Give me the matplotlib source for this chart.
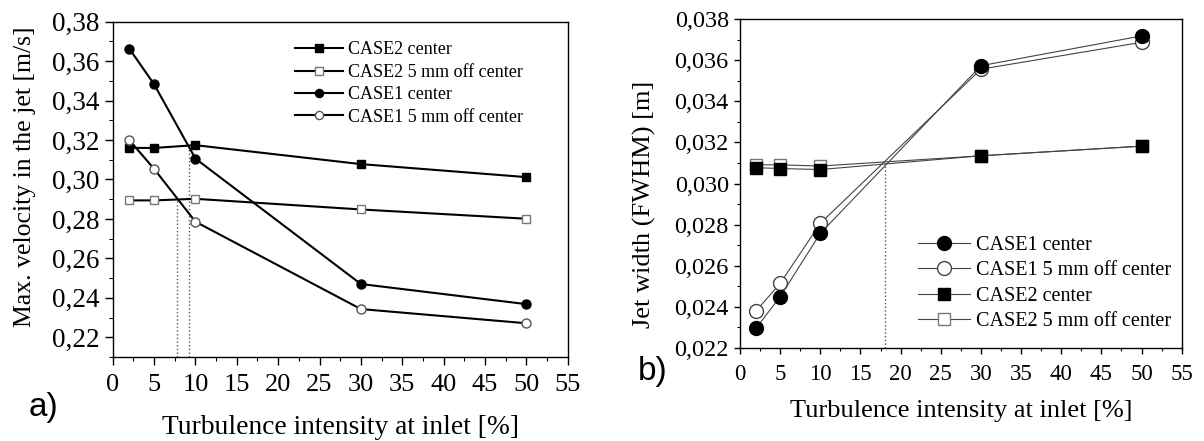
import matplotlib
matplotlib.use("Agg")
import matplotlib.pyplot as plt
from matplotlib.ticker import MultipleLocator, FixedLocator

plt.rcParams['font.family'] = ['Liberation Serif', 'DejaVu Serif']

# turbulence intensity at inlet [%]
ti = [2, 5, 10, 30, 50]

# panel a) max velocity in the jet [m/s]
vel_case2_center = [0.3160, 0.3160, 0.3174, 0.3078, 0.3012]
vel_case2_off = [0.2894, 0.2894, 0.2902, 0.2848, 0.2801]
vel_case1_center = [0.3664, 0.3483, 0.3106, 0.2470, 0.2368]
vel_case1_off = [0.3200, 0.3054, 0.2786, 0.2343, 0.2271]
# dotted guide lines (x position, height)
vel_guides_x = [7.8, 9.2]
vel_guides_y = [0.2900, 0.3170]

# panel b) jet width (FWHM) [m]
w_case1_center = [0.02295, 0.02448, 0.02757, 0.03574, 0.03719]
w_case1_off = [0.02379, 0.02513, 0.02806, 0.03557, 0.03688]
w_case2_center = [0.03077, 0.03073, 0.03068, 0.03135, 0.03182]
w_case2_off = [0.03091, 0.03091, 0.03085, 0.03135, 0.03182]
w_guide_x = 18.0
w_guide_y = 0.03099

xticks = [0, 5, 10, 15, 20, 25, 30, 35, 40, 45, 50, 55]
vel_ticks = [0.22, 0.24, 0.26, 0.28, 0.30, 0.32, 0.34, 0.36, 0.38]
vel_ticklabels = ['0,22', '0,24', '0,26', '0,28', '0,30', '0,32', '0,34', '0,36', '0,38']
w_ticks = [0.022, 0.024, 0.026, 0.028, 0.030, 0.032, 0.034, 0.036, 0.038]
w_ticklabels = ['0,022', '0,024', '0,026', '0,028', '0,030', '0,032', '0,034', '0,036', '0,038']

XLABEL = 'Turbulence intensity at inlet [%]'

fig = plt.figure(figsize=(12.04, 4.41), dpi=100)
ax1 = fig.add_axes([0.0936, 0.1905, 0.3779, 0.7603])
ax2 = fig.add_axes([0.6146, 0.2116, 0.3669, 0.7446])


def style_axis(ax, yticks, yticklabels, ylim, yminor, xfs, yfs, xpad, ypad, tlen):
    ax.set_xlim(0, 55)
    ax.set_ylim(*ylim)
    ax.xaxis.set_major_locator(FixedLocator(xticks))
    ax.set_xticklabels([str(t) for t in xticks])
    ax.xaxis.set_minor_locator(MultipleLocator(2.5))
    ax.yaxis.set_major_locator(FixedLocator(yticks))
    ax.set_yticklabels(yticklabels)
    ax.yaxis.set_minor_locator(MultipleLocator(yminor))
    ax.tick_params(which='major', direction='out', length=tlen, width=1.0,
                   top=False, right=False)
    ax.tick_params(which='minor', direction='out', length=tlen * 0.55, width=0.8,
                   top=False, right=False)
    ax.tick_params(axis='x', labelsize=xfs, pad=xpad)
    ax.tick_params(axis='y', labelsize=yfs, pad=ypad)
    for s in ax.spines.values():
        s.set_linewidth(1.0)


# ---- panel a)
lw = 1.5
ax1.plot(ti, vel_case2_center, color='black', lw=lw, marker='s', ms=6,
         mfc='black', mec='black', label='CASE2 center', zorder=3)
ax1.plot(ti, vel_case2_off, color='black', lw=lw, marker='s', ms=6,
         mfc='white', mec='#777777', label='CASE2 5 mm off center', zorder=3)
ax1.plot(ti, vel_case1_center, color='black', lw=lw, marker='o', ms=6.5,
         mfc='black', mec='black', label='CASE1 center', zorder=3)
ax1.plot(ti, vel_case1_off, color='black', lw=lw, marker='o', ms=6.5,
         mfc='white', mec='#555555', label='CASE1 5 mm off center', zorder=3)
for gx, gy in zip(vel_guides_x, vel_guides_y):
    ax1.vlines(gx, 0.21, gy, colors='#555555', linestyles=':', lw=1.0)

style_axis(ax1, vel_ticks, vel_ticklabels, (0.21, 0.38), 0.01,
           19, 19.5, 6.5, 4, 5.5)
ax1.set_ylabel('Max. velocity in the jet [m/s]', fontsize=18.5, va='center')
ax1.yaxis.set_label_coords(-0.193, 0.537)
ax1.set_xlabel(XLABEL, fontsize=19.8, va='center')
ax1.xaxis.set_label_coords(0.5, -0.209)
ax1.legend(loc='upper left', bbox_to_anchor=(0.38, 0.968), frameon=False,
           fontsize=13, handlelength=2.7, handletextpad=0.25,
           labelspacing=0.3, borderpad=0, markerscale=0.9)

# ---- panel b)
lw2 = 0.8
lc = '#444444'
ax2.plot(ti, w_case1_center, color=lc, lw=lw2, marker='o', ms=10,
         mfc='black', mec='black', label='CASE1 center', zorder=4)
ax2.plot(ti, w_case1_off, color=lc, lw=lw2, marker='o', ms=10,
         mfc='white', mec='#444444', label='CASE1 5 mm off center', zorder=3)
ax2.plot(ti, w_case2_off, color=lc, lw=lw2, marker='s', ms=9,
         mfc='white', mec='#777777', label='CASE2 5 mm off center', zorder=3)
ax2.plot(ti, w_case2_center, color=lc, lw=lw2, marker='s', ms=9,
         mfc='black', mec='black', label='CASE2 center', zorder=4)
ax2.vlines(w_guide_x, 0.022, w_guide_y, colors='#555555', linestyles=':', lw=1.0)

style_axis(ax2, w_ticks, w_ticklabels, (0.022, 0.038), 0.001,
           16.5, 17.5, 7, 3.5, 4.5)
ax2.set_ylabel('Jet width (FWHM) [m]', fontsize=19, va='center')
ax2.yaxis.set_label_coords(-0.216, 0.4376)
ax2.set_xlabel(XLABEL, fontsize=19, va='center')
ax2.xaxis.set_label_coords(0.5, -0.1928)
h, l = ax2.get_legend_handles_labels()
order = [0, 1, 3, 2]
ax2.legend([h[i] for i in order], [l[i] for i in order], loc='upper left',
           bbox_to_anchor=(0.38, 0.37), frameon=False, fontsize=14.5,
           handlelength=2.6, handletextpad=0.3, labelspacing=0.3, borderpad=0)

fig.text(0.024, 0.075, 'a)', fontsize=24, family=['Liberation Sans', 'DejaVu Sans'],
         va='center', ha='left')
fig.text(0.530, 0.158, 'b)', fontsize=24, family=['Liberation Sans', 'DejaVu Sans'],
         va='center', ha='left')

fig.savefig('out.png', dpi=100)
